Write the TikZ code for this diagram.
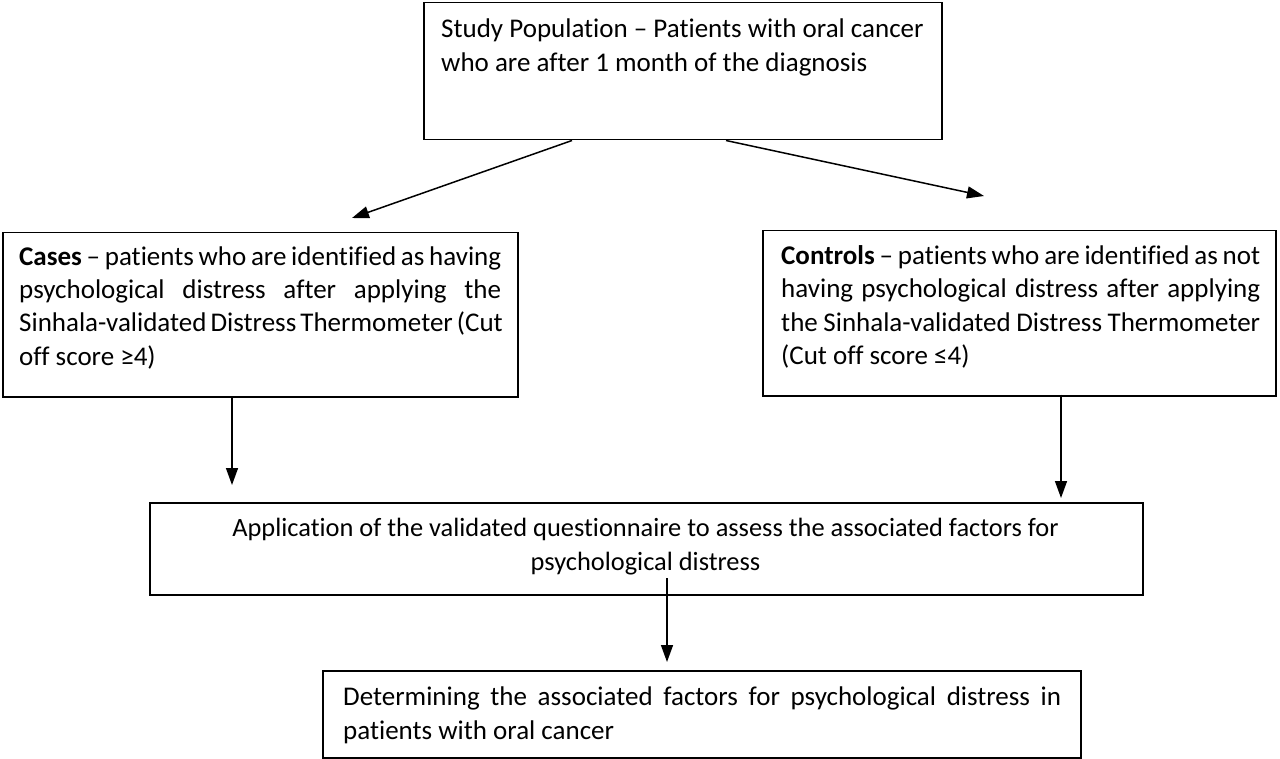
\documentclass[tikz,border=0pt]{standalone}
\usepackage{fontspec}
\setmainfont[Ligatures=NoCommon]{Carlito}
\usetikzlibrary{arrows.meta}
\begin{document}
\begin{tikzpicture}[x=1pt,y=-1pt,
  box/.style={draw, line width=1.5pt, inner sep=0pt, anchor=north west},
  txt/.style={inner sep=0pt, anchor=base west, font=\fontsize{27}{33}\selectfont},
  arr/.style={-{Triangle[length=17pt,width=12pt]}, line width=1.5pt}]
\useasboundingbox (0,0) rectangle (1280,759);
% boxes
\node[box, minimum width=518pt, minimum height=137pt] (top) at (423,2) {};
\node[box, minimum width=515pt, minimum height=164pt] (cases) at (2,232) {};
\node[box, minimum width=513pt, minimum height=165pt] (controls) at (762,230) {};
\node[box, minimum width=993pt, minimum height=92pt] (appl) at (149,502) {};
\node[box, minimum width=758pt, minimum height=87pt] (det) at (322,670) {};
% texts
\node[txt] (toptxt1) at (441,38) {Study Population – Patients with oral cancer};
\node[txt] (toptxt2) at (441,72) {who are after 1 month of the diagnosis};
\node[txt] (cases1) at (19,266) {\makebox[482pt][s]{\textbf{Cases} – patients who are identified as having}};
\node[txt] (cases2) at (19,299) {\makebox[482pt][s]{psychological distress after applying the}};
\node[txt] (cases3) at (19,332) {\makebox[482pt][s]{Sinhala-validated Distress Thermometer (Cut}};
\node[txt] (cases4) at (19,365) {off score ≥4)};
\node[txt] (ctrl1) at (781,265) {\makebox[479pt][s]{\textbf{Controls} – patients who are identified as not}};
\node[txt] (ctrl2) at (781,298) {\makebox[479pt][s]{having psychological distress after applying}};
\node[txt] (ctrl3) at (781,331) {\makebox[479pt][s]{the Sinhala-validated Distress Thermometer}};
\node[txt] (ctrl4) at (781,364) {(Cut off score ≤4)};
\node[txt, anchor=base, font=\fontsize{26.4}{33}\selectfont] (appl1) at (645.5,536) {Application of the validated questionnaire to assess the associated factors for};
\node[txt, anchor=base, font=\fontsize{26.4}{33}\selectfont] (appl2) at (645.5,570) {psychological distress};
\node[txt] (det1) at (343,705) {\makebox[718pt][s]{Determining the associated factors for psychological distress in}};
\node[txt] (det2) at (343,739) {patients with oral cancer};
% free ends
\coordinate (e1) at (352,218);
\coordinate (e2) at (984,196);
\coordinate (e3) at (232,485);
\coordinate (e4) at (1061,498);
\coordinate (s5) at (667,578);
\coordinate (e5) at (667,662);
% connectors
\draw[arr] (top.south west) ++(149,0) -- (e1);
\draw[arr] (top.south west) ++(303,0) -- (e2);
\draw[arr] (cases.south west) ++(230,0) -- (e3);
\draw[arr] (controls.south west) ++(299,-2) -- (e4);
\draw[arr] (s5) -- (e5);
\end{tikzpicture}
\end{document}
